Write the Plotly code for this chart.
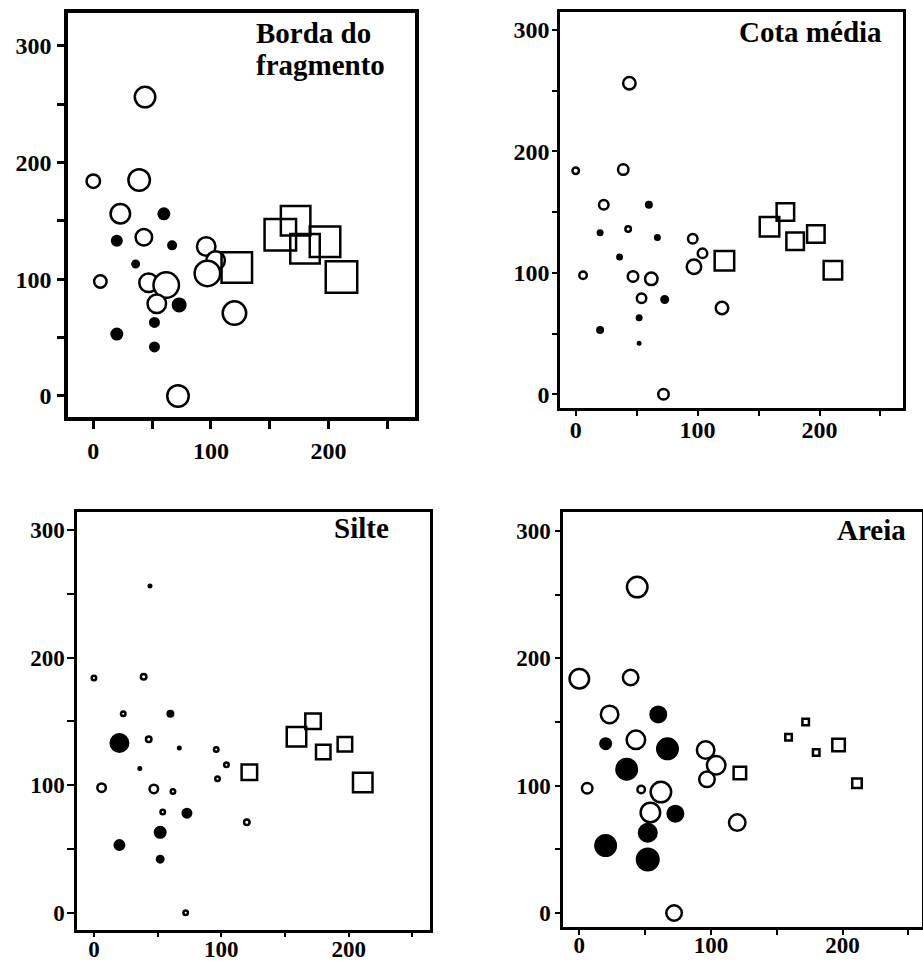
import plotly.graph_objects as go

# ---- data ----
x_open = [44, 0, 39, 23, 43, 6, 47, 62, 54, 96, 104, 97, 120, 72]
y_open = [256, 184, 185, 156, 136, 98, 97, 95, 79, 128, 116, 105, 71, 0]
x_fill = [60, 20, 67, 36, 73, 52, 20, 52]
y_fill = [156, 133, 129, 113, 78, 63, 53, 42]
x_sq = [122, 159, 172, 180, 197, 211]
y_sq = [110, 138, 150, 126, 132, 102]

# symbol size (relative value of each variable per point)
borda_open = [23, 16, 24, 22, 19, 15, 21, 28, 21, 21, 21, 28, 26, 24]
borda_fill = [13, 12, 10, 9, 15, 11, 13, 11]
borda_sq = [33, 34, 32, 32, 33, 34]

cota_open = [15, 9, 13, 12, 8, 10, 13, 15, 12, 12, 12, 17, 15, 13]
cota_fill = [8, 7, 7, 7, 9, 7, 8, 5]
cota_sq = [22, 22, 20, 20, 20, 21]

silte_open = [5, 7, 8, 7, 8, 11, 11, 7, 7, 7, 7, 7, 8, 7]
silte_fill = [8, 20, 5, 5, 11, 13, 12, 9]
silte_sq = [18, 22, 18, 17, 17, 22]

areia_open = [23, 22, 18, 20, 21, 13, 10, 23, 22, 20, 21, 18, 19, 18]
areia_fill = [18, 13, 23, 23, 18, 20, 23, 24]
areia_sq = [15, 9, 9, 9, 15, 12]

titles = [["Borda do", "fragmento"], ["Cota média"], ["Silte"], ["Areia"]]
x_tickvals = [0, 50, 100, 150, 200, 250]
x_ticktext = ["0", "", "100", "", "200", ""]
y_tickvals = [0, 50, 100, 150, 200, 250, 300]
y_ticktext = ["0", "", "100", "", "200", "", "300"]

W, H = 923, 961
FONT = "Liberation Serif"

panels = [
    dict(vals=(borda_open, borda_fill, borda_sq), frame=(68, 415, 13, 417),
         xr=[-21.5, 273.5], yr=[-18, 328], lw=3.5, tw=3, xtl=8, ytl=7, xso=1, yso=1,
         fs=24, title_x=254, title_y=[33, 65]),
    dict(vals=(cota_open, cota_fill, cota_sq), frame=(560, 903, 12, 408),
         xr=[-12.9, 268.5], yr=[-11.3, 314.7], lw=2.5, tw=2, xtl=5, ytl=5, xso=-7, yso=-2,
         fs=24, title_x=737, title_y=[32]),
    dict(vals=(silte_open, silte_fill, silte_sq), frame=(77, 430, 512, 930),
         xr=[-13.3, 263.8], yr=[-13.5, 314], lw=2.5, tw=2, xtl=4, ytl=7, xso=-7, yso=-2,
         fs=23, title_x=332, title_y=[528]),
    dict(vals=(areia_open, areia_fill, areia_sq), frame=(563, 922, 512, 927),
         xr=[-12.4, 260.4], yr=[-11, 315], lw=2.5, tw=2, xtl=5, ytl=5, xso=-9, yso=0,
         fs=23, title_x=835, title_y=[530]),
]

MLW = 2.5

def msize(v):
    return [max(v_ - MLW, 1.5) for v_ in v]

fig = go.Figure()
layout = dict(width=W, height=H, margin=dict(l=0, r=0, t=0, b=0, autoexpand=False),
              paper_bgcolor="white", plot_bgcolor="white", showlegend=False,
              annotations=[])

for i, p in enumerate(panels):
    sfx = "" if i == 0 else str(i + 1)
    xa, ya = "x" + sfx, "y" + sfx
    v_open, v_fill, v_sq = p["vals"]
    fig.add_trace(go.Scatter(x=x_open, y=y_open, mode="markers", xaxis=xa, yaxis=ya,
                             marker=dict(symbol="circle", size=msize(v_open), color="white",
                                         opacity=1, line=dict(color="black", width=MLW))))
    fig.add_trace(go.Scatter(x=x_fill, y=y_fill, mode="markers", xaxis=xa, yaxis=ya,
                             marker=dict(symbol="circle", size=msize(v_fill), color="black",
                                         opacity=1, line=dict(color="black", width=MLW))))
    fig.add_trace(go.Scatter(x=x_sq, y=y_sq, mode="markers", xaxis=xa, yaxis=ya,
                             marker=dict(symbol="square-open", size=msize(v_sq), color="black",
                                         opacity=1, line=dict(color="black", width=MLW))))
    l, r, t, b = p["frame"]
    common = dict(showgrid=False, zeroline=False, showline=True, mirror=True,
                  automargin=False,
                  linecolor="black", linewidth=p["lw"], ticks="outside",
                  tickwidth=p["tw"], tickcolor="black",
                  tickfont=dict(family=FONT, size=p["fs"], color="black", weight="bold"))
    layout["xaxis" + sfx] = dict(domain=[l / W, r / W], range=p["xr"], anchor=ya,
                                 tickmode="array", tickvals=x_tickvals, ticktext=x_ticktext,
                                 ticklen=p["xtl"], ticklabelstandoff=p["xso"], **common)
    layout["yaxis" + sfx] = dict(domain=[1 - b / H, 1 - t / H], range=p["yr"], anchor=xa,
                                 tickmode="array", tickvals=y_tickvals, ticktext=y_ticktext,
                                 ticklen=p["ytl"], ticklabelstandoff=p["yso"], **common)
    for line, ty in zip(titles[i], p["title_y"]):
        layout["annotations"].append(dict(
            text=line, xref="paper", yref="paper", x=p["title_x"] / W, y=1 - ty / H,
            xanchor="left", yanchor="middle", showarrow=False,
            font=dict(family=FONT, size=29, color="black", weight="bold")))

fig.update_layout(**layout)
fig.write_html("out.html")
